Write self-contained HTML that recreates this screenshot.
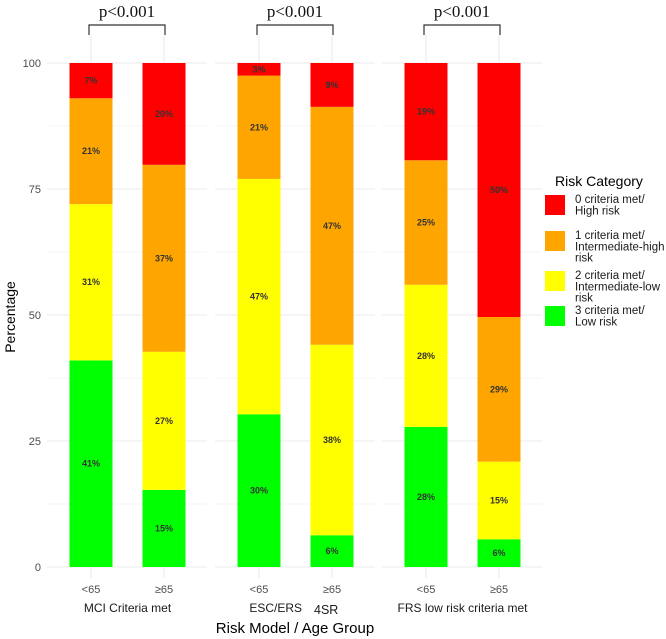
<!DOCTYPE html>
<html><head><meta charset="utf-8"><style>
body{margin:0;background:#fff;}
svg{display:block;font-family:"Liberation Sans",sans-serif;}
</style></head><body>
<svg id="c" width="666" height="639" viewBox="0 0 666 639"></svg>
<script>
const groups = ["MCI Criteria met","ESC/ERS","FRS low risk criteria met"];
const ages = ["<65","≥65"];
const green = [41,15.3,30.3,6.3,27.8,5.5];
const yellow = [31,27.4,46.7,37.8,28.2,15.4];
const orange = [21,37.1,20.5,47.2,24.7,28.7];
const red = [7,20.2,2.5,8.7,19.3,50.4];
const labelsGreen = ["41%","15%","30%","6%","28%","6%"];
const labelsYellow = ["31%","27%","47%","38%","28%","15%"];
const labelsOrange = ["21%","37%","21%","47%","25%","29%"];
const labelsRed = ["7%","20%","3%","9%","19%","50%"];
const yTicks = [0,25,50,75,100];
const colors = ["#00ff00","#ffff00","#ffa500","#ff0000"];
const legendLabels = [["0 criteria met/","High risk"],["1 criteria met/","Intermediate-high","risk"],["2 criteria met/","Intermediate-low","risk"],["3 criteria met/","Low risk"]];
const legendColors = ["#ff0000","#ffa500","#ffff00","#00ff00"];

const NS="http://www.w3.org/2000/svg";
const svg=document.getElementById('c');
function mk(t,a,p){const e=document.createElementNS(NS,t);for(const k in a)e.setAttribute(k,a[k]);(p||svg).appendChild(e);return e;}
const y0=567,y100=63;
function y(v){return y0-(y0-y100)*v/100;}
const panelX=[47,215,382], panelW=160;
function barCenter(i){const p=Math.floor(i/2);return panelX[p]+44+(i%2)*73;}
const bw=43;

for(let p=0;p<3;p++){
  for(let v=0;v<=100;v+=12.5){
    const g=mk('line',{x1:panelX[p],x2:panelX[p]+panelW,y1:y(v),y2:y(v),stroke:'#ebebeb','stroke-width':v%25===0?1.1:0.6});
    
    
  }
  for(let a=0;a<2;a++){
    const cx=barCenter(p*2+a);
    const g=mk('line',{x1:cx,x2:cx,y1:35,y2:578,stroke:'#ebebeb','stroke-width':1.1});
    
    
  }
}
yTicks.forEach(v=>{
  const t=mk('text',{x:41,y:y(v)+4,'text-anchor':'end','font-size':11,fill:'#4d4d4d'});
  t.textContent=v;
  
  
});
const series=[green,yellow,orange,red];
const lbls=[labelsGreen,labelsYellow,labelsOrange,labelsRed];
for(let i=0;i<6;i++){
  let base=0;const cx=barCenter(i);
  for(let s=0;s<4;s++){
    const v=series[s][i];
    const r=mk('rect',{x:cx-bw/2,y:y(base+v),width:bw,height:y(base)-y(base+v),fill:colors[s]});
    
    
    const t=mk('text',{x:cx,y:y(base+v/2)+3,'text-anchor':'middle','font-size':9,'font-weight':'bold',fill:'#333'});
    t.textContent=lbls[s][i];
    
    
    base+=v;
  }
  const t=mk('text',{x:cx,y:593,'text-anchor':'middle','font-size':11,fill:'#4d4d4d'});
  t.textContent=ages[i%2];
  
  
}
for(let p=0;p<3;p++){
  const c=(barCenter(p*2)+barCenter(p*2+1))/2;
  const attrs=p===1?{x:302,y:612,'text-anchor':'end','font-size':12,fill:'#1a1a1a'}:{x:c,y:612,'text-anchor':'middle','font-size':12,fill:'#1a1a1a'};
  const t=mk('text',attrs);
  t.textContent=groups[p];
  
  
  const x1=barCenter(p*2)-2,x2=barCenter(p*2+1)+1;
  const b=mk('path',{d:`M${x1} 35 V25 H${x2} V35`,fill:'none',stroke:'#333','stroke-width':1.2});
  
  
  const pt=mk('text',{x:(x1+x2)/2,y:17,'text-anchor':'middle','font-size':17,'font-family':'Liberation Serif,serif',fill:'#111'});
  pt.textContent='p<0.001';
  
  
}
const s4=mk('text',{x:314,y:614,'text-anchor':'start','font-size':12.5,fill:'#1a1a1a'});
s4.textContent='4SR';


const xt=mk('text',{x:295,y:633,'text-anchor':'middle','font-size':15,fill:'#000'});
xt.textContent='Risk Model / Age Group';


const yt=mk('text',{x:0,y:0,'text-anchor':'middle','font-size':14,fill:'#000',transform:'translate(15,317) rotate(-90)'});
yt.textContent='Percentage';


const lt=mk('text',{x:555,y:186,'font-size':14,fill:'#000'});
lt.textContent='Risk Category';


const boxY=[195,231,271,306];
for(let k=0;k<4;k++){
  const r=mk('rect',{x:545,y:boxY[k],width:20,height:20,fill:legendColors[k]});
  
  
  const t=mk('text',{x:575,y:boxY[k]+8,'font-size':11.5,fill:'#1a1a1a'});
  
  
  legendLabels[k].forEach((line,j)=>{const s=mk('tspan',{x:575,dy:j?11.3:0},t);s.textContent=line;});
}
</script>
</body></html>
